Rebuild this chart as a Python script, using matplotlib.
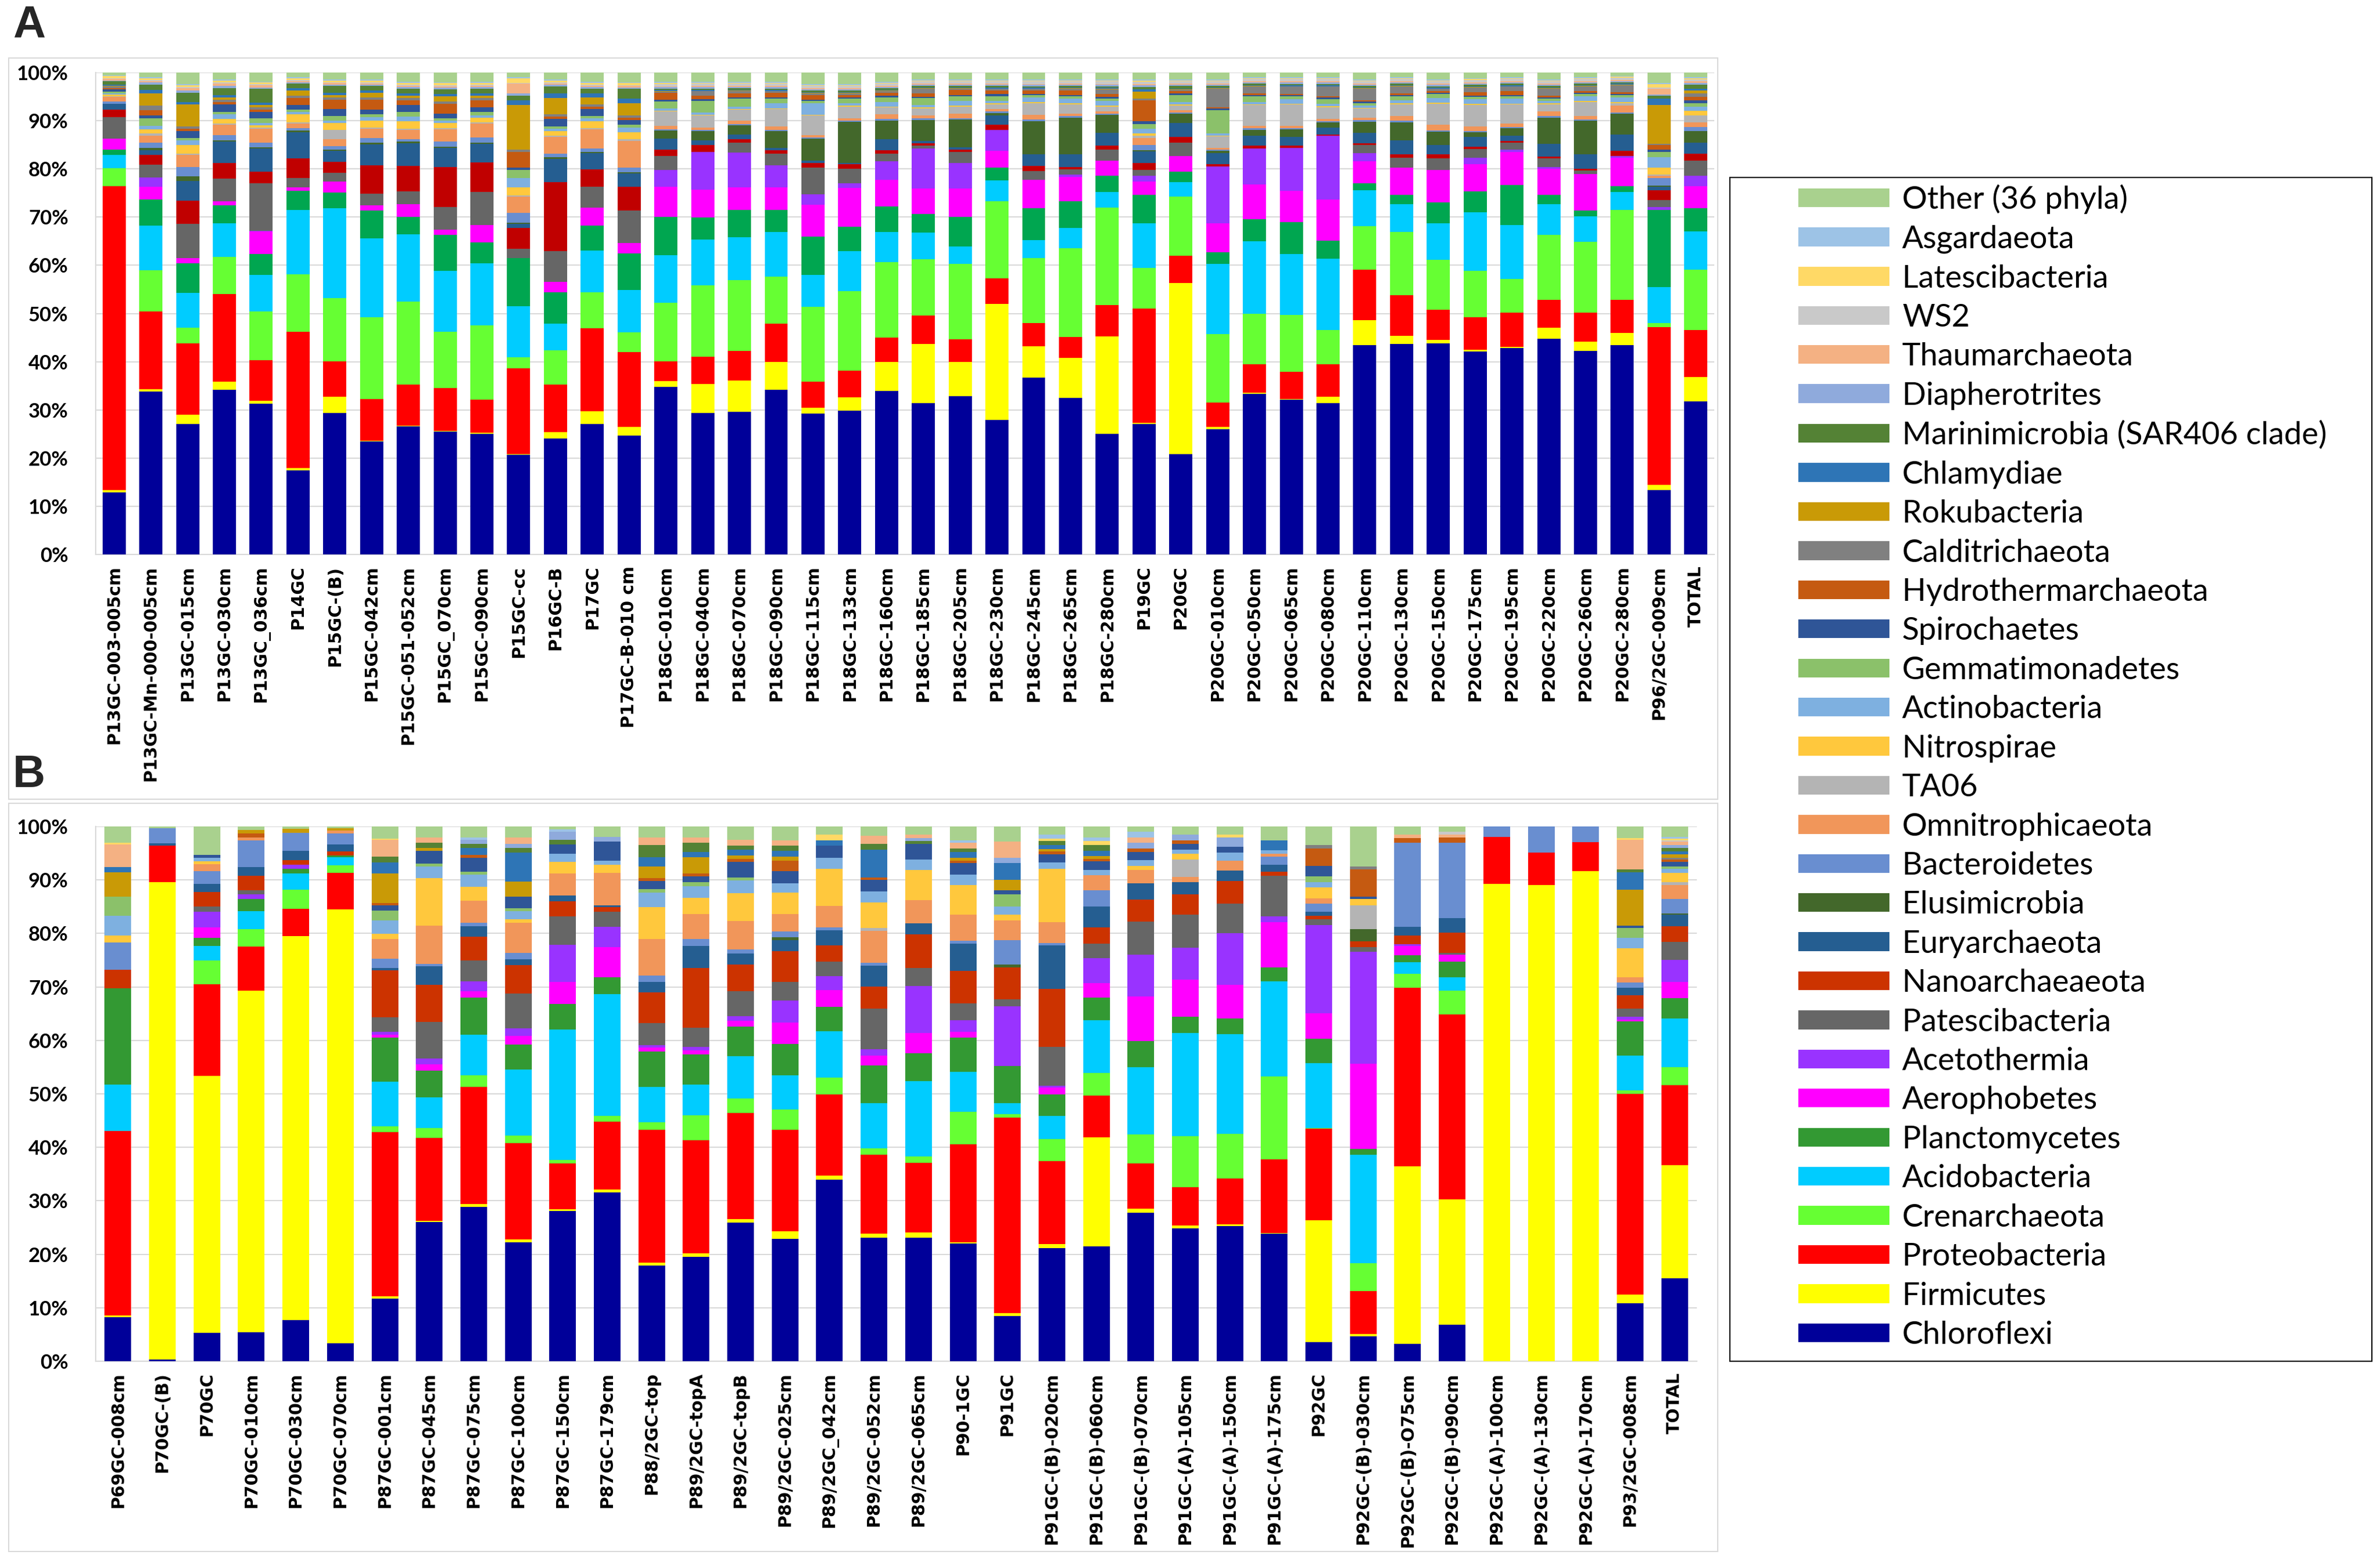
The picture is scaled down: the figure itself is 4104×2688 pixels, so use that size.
import numpy as np
import matplotlib
matplotlib.use("Agg")
import matplotlib.pyplot as plt
from matplotlib.patches import Patch, Rectangle

W, H = 4104, 2688

# stacking order, bottom -> top
PHYLA = ["Chloroflexi", "Firmicutes", "Proteobacteria", "Crenarchaeota",
         "Acidobacteria", "Planctomycetes", "Aerophobetes", "Acetothermia",
         "Patescibacteria", "Nanoarchaeaeota", "Euryarchaeota", "Elusimicrobia",
         "Bacteroidetes", "Omnitrophicaeota", "TA06", "Nitrospirae",
         "Actinobacteria", "Gemmatimonadetes", "Spirochaetes",
         "Hydrothermarchaeota", "Calditrichaeota", "Rokubacteria", "Chlamydiae",
         "Marinimicrobia (SAR406 clade)", "Diapherotrites", "Thaumarchaeota",
         "WS2", "Latescibacteria", "Asgardaeota", "Other (36 phyla)"]

COLORS = ["#000099", "#FFFF00", "#FF0000", "#66FF33", "#00CCFF", "#339933",
          "#FF00FF", "#9933FF", "#666666", "#CC3300", "#255E91", "#43682B",
          "#698ED0", "#F1965A", "#B4B4B4", "#FFC83D", "#7EB0E0", "#8BC16A",
          "#2F5597", "#C55A11", "#808080", "#C99A06", "#2E75B6", "#548235",
          "#8FAADC", "#F4B183", "#C9C9C9", "#FFD966", "#9DC3E6", "#A9D18E"]

# panel A renders two phyla in slightly different shades
A_COLORS = list(COLORS)
A_COLORS[5] = "#00A650"
A_COLORS[9] = "#C00000"

# ---------------- panel A ----------------
A_SAMPLES = ["P13GC-003-005cm", "P13GC-Mn-000-005cm", "P13GC-015cm", "P13GC-030cm",
             "P13GC_036cm", "P14GC", "P15GC-(B)", "P15GC-042cm", "P15GC-051-052cm",
             "P15GC_070cm", "P15GC-090cm", "P15GC-cc", "P16GC-B", "P17GC",
             "P17GC-B-010 cm", "P18GC-010cm", "P18GC-040cm", "P18GC-070cm",
             "P18GC-090cm", "P18GC-115cm", "P18GC-133cm", "P18GC-160cm",
             "P18GC-185cm", "P18GC-205cm", "P18GC-230cm", "P18GC-245cm",
             "P18GC-265cm", "P18GC-280cm", "P19GC", "P20GC", "P20GC-010cm",
             "P20GC-050cm", "P20GC-065cm", "P20GC-080cm", "P20GC-110cm",
             "P20GC-130cm", "P20GC-150cm", "P20GC-175cm", "P20GC-195cm",
             "P20GC-220cm", "P20GC-260cm", "P20GC-280cm", "P96/2GC-009cm", "TOTAL"]

A_CHLOROFLEXI = [13.2, 34.0, 27.9, 34.8, 33.1, 17.9, 30.6, 24.3, 27.2, 25.2,
                 25.7, 21.3, 24.7, 27.5, 24.7, 35.5, 30.2, 30.6, 35.1, 30.2,
                 30.9, 35.1, 32.6, 34.0, 28.7, 37.5, 33.4, 25.5, 27.5, 21.4,
                 27.0, 34.5, 32.8, 32.0, 45.1, 44.9, 44.8, 43.1, 43.9, 46.1,
                 43.4, 44.5, 13.5, 32.4]
A_FIRMICUTES = [0.5, 0.5, 2.0, 1.8, 0.7, 0.5, 3.5, 0.1, 0.1, 0.1,
                0.3, 0.1, 1.3, 2.7, 1.8, 1.3, 6.1, 6.6, 5.9, 1.2,
                2.9, 6.3, 12.7, 7.4, 24.7, 6.6, 8.5, 20.6, 0.2, 36.4,
                0.5, 0.3, 0.1, 1.4, 5.4, 1.7, 0.7, 0.3, 0.3, 2.3,
                1.9, 2.6, 1.0, 5.2]
A_PROTEOBACTERIA = [64.5, 16.2, 15.2, 18.5, 8.9, 29.1, 7.6, 8.9, 8.8, 8.9,
                    7.0, 18.3, 10.1, 17.4, 15.5, 4.2, 5.8, 6.4, 8.1, 5.6,
                    5.7, 5.2, 6.1, 4.9, 5.4, 5.0, 4.5, 6.6, 24.0, 5.9,
                    5.3, 6.1, 5.9, 6.8, 10.8, 8.6, 6.5, 6.9, 7.2, 5.9,
                    6.2, 7.0, 33.0, 9.9]
A_CRENARCHAEOTA = [3.9, 8.6, 3.3, 7.9, 10.7, 12.3, 13.7, 17.5, 17.6, 11.5,
                   15.8, 2.3, 7.3, 7.6, 4.1, 12.4, 15.3, 15.2, 10.0, 16.0,
                   17.1, 16.2, 12.1, 16.2, 16.5, 13.7, 18.9, 20.6, 8.6, 12.5,
                   14.7, 10.8, 12.0, 7.3, 9.4, 13.5, 10.5, 9.8, 7.2, 13.9,
                   15.1, 19.1, 0.9, 12.8]
A_ACIDOBACTERIA = [2.8, 9.3, 7.5, 7.1, 8.0, 13.8, 19.4, 16.9, 14.2, 12.5,
                   13.2, 10.9, 5.6, 8.8, 8.8, 10.1, 9.7, 9.1, 9.5, 6.8,
                   8.6, 6.5, 5.8, 3.7, 4.4, 3.9, 4.3, 3.4, 9.4, 3.1,
                   15.1, 15.5, 12.9, 15.0, 7.8, 6.0, 7.8, 12.5, 11.5, 6.6,
                   5.4, 3.8, 7.5, 8.1]
A_PLANCTOMYCETES = [1.1, 5.5, 6.3, 3.8, 4.5, 4.1, 3.4, 6.0, 3.8, 7.4,
                    4.5, 10.3, 6.7, 5.3, 7.6, 8.1, 4.7, 5.9, 4.7, 8.2,
                    5.2, 5.4, 4.0, 6.4, 2.7, 6.7, 5.7, 3.4, 6.0, 2.3,
                    2.6, 4.8, 6.8, 3.9, 1.4, 1.9, 4.4, 4.4, 8.5, 2.0,
                    1.3, 1.2, 16.1, 4.9]
A_AEROPHOBETES = [2.3, 2.7, 1.1, 0.9, 5.0, 0.7, 2.4, 1.1, 2.7, 1.0,
                  3.7, 0.0, 2.2, 3.7, 2.2, 6.4, 5.9, 4.8, 4.9, 6.8,
                  8.3, 5.7, 5.4, 6.1, 3.6, 6.0, 5.2, 3.2, 2.7, 3.3,
                  6.2, 7.4, 6.6, 8.6, 4.8, 5.8, 6.9, 5.8, 7.0, 5.6,
                  7.8, 6.1, 0.0, 4.7]
A_ACETOTHERMIA = [0.0, 1.9, 0.0, 0.0, 0.2, 0.0, 0.0, 0.0, 0.0, 0.0,
                  0.0, 0.0, 0.0, 0.0, 0.0, 3.6, 8.1, 7.5, 4.6, 2.2,
                  1.0, 4.1, 8.7, 5.4, 4.5, 0.0, 0.5, 0.0, 1.3, 0.0,
                  12.2, 7.8, 9.1, 13.5, 1.7, 0.0, 0.0, 1.3, 0.5, 0.3,
                  0.0, 0.4, 0.6, 2.2]
A_PATESCIBACTERIA = [4.6, 2.6, 7.3, 4.7, 10.4, 2.0, 1.8, 2.5, 2.7, 4.7,
                     7.1, 2.0, 6.5, 4.4, 6.7, 2.9, 0.0, 2.1, 2.5, 5.8,
                     3.1, 1.6, 0.6, 2.4, 0.0, 1.9, 1.1, 2.3, 1.2, 2.9,
                     0.0, 0.0, 0.0, 0.0, 1.8, 2.1, 2.5, 1.9, 1.5, 1.9,
                     0.7, 0.0, 1.4, 3.2]
A_NANOARCHAEAEOTA = [1.6, 2.1, 4.9, 3.3, 2.5, 4.2, 2.4, 6.1, 5.4, 8.2,
                     6.3, 4.4, 14.7, 3.7, 5.0, 1.3, 1.4, 0.7, 0.8, 1.0,
                     1.0, 0.7, 0.5, 0.5, 1.1, 1.1, 0.5, 0.9, 1.5, 1.2,
                     0.5, 0.6, 0.5, 0.3, 0.3, 0.8, 0.8, 0.4, 0.4, 0.4,
                     0.4, 1.1, 2.1, 1.5]
A_EURYARCHAEOTA = [1.2, 1.0, 4.2, 4.6, 5.1, 5.6, 2.4, 4.5, 4.8, 3.9,
                   3.9, 0.9, 5.0, 3.4, 2.7, 2.4, 1.1, 1.0, 0.5, 0.5,
                   0.3, 2.4, 0.5, 0.5, 2.0, 2.4, 2.7, 2.7, 2.4, 2.9,
                   2.4, 2.1, 1.9, 1.5, 2.3, 3.0, 2.0, 2.1, 1.0, 2.7,
                   3.1, 3.4, 0.7, 2.3]
A_ELUSIMICROBIA = [0.0, 0.5, 1.0, 0.3, 0.3, 0.3, 0.3, 0.3, 0.3, 0.3,
                   0.3, 0.3, 0.3, 0.3, 0.3, 1.7, 1.9, 2.0, 3.5, 4.6,
                   8.8, 4.0, 4.5, 6.0, 0.5, 7.1, 7.9, 3.7, 0.3, 2.0,
                   0.5, 1.3, 1.5, 1.0, 2.4, 3.8, 2.8, 1.0, 1.6, 5.6,
                   7.1, 4.4, 0.3, 2.5]
A_BACTEROIDETES = [0.5, 1.0, 2.0, 1.0, 1.0, 0.5, 0.7, 1.0, 0.5, 1.0,
                   1.0, 2.1, 0.8, 0.7, 1.0, 0.3, 0.3, 0.3, 0.3, 0.3,
                   0.3, 0.3, 0.3, 0.3, 0.3, 0.3, 0.3, 0.3, 1.0, 0.3,
                   0.3, 0.3, 0.3, 0.3, 0.3, 0.3, 0.3, 0.3, 0.3, 0.3,
                   0.3, 0.3, 1.5, 0.8]
A_OMNITROPHICAEOTA = [1.0, 1.5, 2.6, 2.2, 3.0, 1.0, 1.5, 2.0, 2.0, 2.5,
                      3.0, 3.4, 3.5, 4.0, 5.5, 0.7, 0.5, 0.7, 0.7, 0.5,
                      0.5, 1.0, 0.7, 1.0, 0.5, 1.0, 0.5, 0.5, 1.5, 0.5,
                      0.3, 0.5, 0.5, 0.5, 0.5, 1.0, 1.2, 1.0, 0.8, 1.0,
                      0.7, 1.5, 0.5, 1.0]
A_TA06 = [0.2, 0.5, 0.3, 0.3, 0.3, 0.3, 2.0, 0.3, 0.3, 0.3,
          0.3, 0.3, 0.3, 0.3, 0.3, 3.0, 2.5, 2.3, 3.7, 4.2,
          2.5, 1.5, 1.5, 1.5, 1.0, 2.5, 2.0, 1.0, 0.5, 1.0,
          2.5, 4.5, 4.5, 2.5, 2.0, 2.5, 4.5, 4.5, 4.0, 1.5,
          3.0, 0.5, 0.3, 1.5]
A_NITROSPIRAE = [0.3, 0.8, 1.8, 1.0, 0.5, 1.7, 1.5, 1.5, 1.5, 1.0,
                 1.0, 1.7, 1.0, 1.5, 1.5, 0.2, 0.2, 0.2, 0.2, 0.2,
                 0.2, 0.2, 0.2, 0.2, 0.2, 0.2, 0.2, 0.2, 0.5, 0.2,
                 0.2, 0.2, 0.2, 0.2, 0.2, 0.2, 0.2, 0.2, 0.2, 0.2,
                 0.2, 0.2, 1.4, 1.0]
A_ACTINOBACTERIA = [0.3, 0.8, 1.0, 1.0, 0.5, 0.5, 0.5, 0.7, 1.0, 0.5,
                    0.5, 2.0, 0.5, 0.5, 1.0, 0.5, 0.5, 0.5, 1.0, 2.4,
                    0.5, 1.0, 0.5, 1.0, 0.5, 1.0, 1.0, 1.0, 1.0, 0.5,
                    0.5, 0.5, 1.0, 0.5, 0.5, 0.7, 1.0, 1.0, 1.0, 0.5,
                    1.0, 1.0, 2.2, 0.8]
A_GEMMATIMONADETES = [0.3, 1.5, 0.5, 0.5, 1.0, 0.5, 1.0, 0.7, 1.0, 0.5,
                      0.7, 1.7, 0.5, 0.5, 0.5, 1.5, 2.5, 1.7, 1.0, 0.5,
                      1.0, 1.0, 1.5, 1.0, 1.0, 0.5, 0.5, 0.5, 1.0, 1.5,
                      5.0, 1.2, 0.5, 1.0, 0.5, 0.8, 0.8, 0.5, 0.5, 0.5,
                      0.5, 0.5, 1.1, 0.8]
A_SPIROCHAETES = [0.5, 0.7, 1.5, 1.5, 1.5, 1.0, 1.5, 1.0, 1.5, 1.0,
                  1.0, 0.5, 1.5, 1.5, 1.0, 0.3, 0.3, 0.3, 0.3, 0.3,
                  0.3, 0.3, 0.3, 0.3, 0.5, 0.3, 0.3, 0.3, 0.5, 0.3,
                  0.3, 0.3, 0.3, 0.3, 0.3, 0.3, 0.3, 0.3, 0.3, 0.3,
                  0.3, 0.3, 0.5, 0.6]
A_HYDROTHERMARCHAEOTA = [0.3, 1.0, 0.5, 0.5, 0.5, 1.5, 2.0, 2.0, 1.0, 2.0,
                         1.5, 3.4, 0.5, 0.5, 0.5, 1.5, 0.7, 0.8, 1.0, 1.0,
                         0.5, 0.7, 0.7, 1.0, 0.8, 0.7, 1.0, 0.7, 4.5, 0.5,
                         0.3, 0.3, 0.3, 0.3, 0.3, 0.3, 0.3, 0.7, 0.8, 0.3,
                         0.3, 0.3, 0.9, 0.8]
A_CALDITRICHAEOTA = [0.3, 1.0, 0.5, 0.5, 0.5, 0.5, 0.5, 0.5, 0.5, 0.5,
                     0.5, 0.5, 0.5, 0.5, 0.5, 0.3, 1.0, 0.5, 0.3, 0.3,
                     0.3, 0.3, 1.0, 0.3, 0.3, 0.3, 0.3, 1.0, 0.3, 0.3,
                     4.0, 1.5, 1.5, 2.0, 2.5, 1.5, 0.5, 1.0, 1.0, 1.5,
                     1.0, 1.5, 0.3, 0.7]
A_ROKUBACTERIA = [0.2, 2.5, 4.7, 0.5, 0.5, 1.0, 0.5, 1.0, 0.5, 1.0,
                  0.5, 9.5, 3.5, 1.5, 2.5, 0.1, 0.1, 0.1, 0.1, 0.1,
                  0.1, 0.1, 0.1, 0.1, 0.1, 0.1, 0.1, 0.1, 1.5, 0.1,
                  0.1, 0.1, 0.1, 0.1, 0.1, 0.1, 0.1, 0.1, 0.1, 0.1,
                  0.1, 0.1, 8.1, 0.6]
A_CHLAMYDIAE = [0.2, 0.8, 0.5, 0.5, 0.5, 0.5, 0.5, 0.5, 0.5, 0.5,
                0.5, 1.0, 1.0, 0.8, 1.0, 0.2, 0.2, 0.2, 0.2, 0.2,
                0.2, 0.2, 0.2, 0.2, 0.2, 0.2, 0.2, 0.2, 0.5, 0.2,
                0.2, 0.2, 0.2, 0.2, 0.2, 0.2, 0.2, 0.2, 0.2, 0.2,
                0.2, 0.2, 1.4, 0.4]
A_MARINIMICROBIA = [0.7, 1.0, 2.0, 1.5, 3.0, 1.0, 1.5, 1.0, 1.0, 1.0,
                    1.0, 1.0, 1.5, 1.0, 2.0, 0.3, 0.3, 0.3, 0.3, 0.3,
                    0.3, 0.3, 0.3, 0.3, 0.3, 0.3, 0.3, 0.3, 0.5, 0.5,
                    0.3, 0.3, 0.3, 0.3, 0.3, 0.3, 0.3, 0.3, 0.3, 0.3,
                    0.3, 0.3, 0.5, 0.8]
A_DIAPHEROTRITES = [0.2, 0.5, 0.5, 0.5, 0.3, 0.3, 0.3, 0.3, 0.3, 0.3,
                    0.3, 0.5, 0.3, 0.3, 0.3, 0.3, 0.3, 0.3, 0.3, 0.3,
                    0.3, 0.3, 0.3, 0.3, 0.3, 0.3, 0.3, 0.3, 0.3, 0.3,
                    0.3, 0.3, 0.3, 0.3, 0.3, 0.3, 0.3, 0.3, 0.3, 0.3,
                    0.3, 0.3, 0.3, 0.4]
A_THAUMARCHAEOTA = [0.3, 0.3, 0.5, 0.5, 0.5, 0.3, 0.3, 0.3, 0.3, 0.3,
                    0.3, 2.0, 0.3, 0.3, 0.3, 0.2, 0.2, 0.2, 0.2, 0.2,
                    0.2, 0.2, 0.2, 0.2, 0.2, 0.2, 0.2, 0.2, 0.3, 0.2,
                    0.2, 0.2, 0.2, 0.2, 0.2, 0.2, 0.2, 0.2, 0.2, 0.2,
                    0.2, 0.2, 1.2, 0.4]
A_WS2 = [0.2, 0.2, 0.2, 0.2, 0.2, 0.2, 0.2, 0.2, 0.2, 0.2,
         0.2, 0.2, 0.2, 0.2, 0.2, 0.5, 0.5, 0.5, 0.5, 0.5,
         0.5, 0.5, 0.5, 0.5, 0.5, 0.5, 0.5, 0.5, 0.5, 0.5,
         0.5, 0.5, 0.5, 0.5, 0.5, 0.5, 0.5, 0.5, 0.5, 0.5,
         0.5, 0.5, 0.2, 0.3]
A_LATESCIBACTERIA = [0.4, 0.4, 0.4, 0.4, 0.4, 0.4, 0.4, 0.4, 0.4, 0.4,
                     0.4, 1.0, 0.4, 0.4, 0.4, 0.2, 0.2, 0.2, 0.2, 0.2,
                     0.2, 0.2, 0.2, 0.2, 0.2, 0.2, 0.2, 0.2, 0.2, 0.2,
                     0.2, 0.2, 0.2, 0.2, 0.2, 0.2, 0.2, 0.2, 0.2, 0.2,
                     0.2, 0.2, 0.8, 0.3]
A_ASGARDAEOTA = [0.2, 0.2, 0.2, 0.2, 0.2, 0.2, 0.2, 0.2, 0.2, 0.2,
                 0.2, 0.2, 0.2, 0.2, 0.2, 0.2, 0.2, 0.2, 0.2, 0.2,
                 0.2, 0.2, 0.2, 0.2, 0.2, 0.2, 0.2, 0.2, 0.2, 0.2,
                 0.2, 0.2, 0.2, 0.2, 0.2, 0.2, 0.2, 0.2, 0.2, 0.2,
                 0.2, 0.2, 0.2, 0.2]
A_OTHER = [0.6, 1.0, 2.5, 1.5, 2.0, 1.0, 1.5, 1.5, 2.0, 2.0,
           2.0, 1.0, 1.5, 2.0, 2.0, 2.0, 2.0, 2.0, 2.0, 2.5,
           2.5, 2.0, 1.5, 1.5, 1.5, 1.5, 1.5, 1.5, 1.5, 1.5,
           1.5, 1.0, 1.0, 1.0, 1.5, 1.0, 1.5, 1.2, 1.0, 1.5,
           1.0, 0.7, 2.2, 1.0]

# ---------------- panel B ----------------
B_SAMPLES = ["P69GC-008cm", "P70GC-(B)", "P70GC", "P70GC-010cm", "P70GC-030cm",
             "P70GC-070cm", "P87GC-001cm", "P87GC-045cm", "P87GC-075cm",
             "P87GC-100cm", "P87GC-150cm", "P87GC-179cm", "P88/2GC-top",
             "P89/2GC-topA", "P89/2GC-topB", "P89/2GC-025cm", "P89/2GC_042cm",
             "P89/2GC-052cm", "P89/2GC-065cm", "P90-1GC", "P91GC",
             "P91GC-(B)-020cm", "P91GC-(B)-060cm", "P91GC-(B)-070cm",
             "P91GC-(A)-105cm", "P91GC-(A)-150cm", "P91GC-(A)-175cm", "P92GC",
             "P92GC-(B)-030cm", "P92GC-(B)-O75cm", "P92GC-(B)-090cm",
             "P92GC-(A)-100cm", "P92GC-(A)-130cm", "P92GC-(A)-170cm",
             "P93/2GC-008cm", "TOTAL"]

B_CHLOROFLEXI = [8.3, 0.3, 5.3, 5.4, 7.7, 3.3, 11.5, 25.7, 28.3, 22.1,
                 27.8, 31.7, 17.8, 19.2, 25.5, 22.4, 32.9, 22.6, 22.9, 21.4,
                 8.3, 20.7, 21.0, 27.3, 24.3, 24.6, 23.2, 3.6, 4.7, 3.3,
                 6.8, 0.0, 0.0, 0.0, 10.8, 15.6]
B_FIRMICUTES = [0.3, 89.1, 47.7, 63.6, 71.3, 80.9, 0.4, 0.3, 0.5, 0.5,
                0.3, 0.6, 0.5, 0.7, 0.6, 1.4, 0.7, 0.8, 1.0, 0.3,
                0.5, 0.8, 19.9, 0.7, 0.5, 0.3, 0.1, 23.0, 0.4, 33.1,
                23.2, 89.3, 89.0, 91.7, 1.6, 21.2]
B_PROTEOBACTERIA = [34.6, 6.8, 17.0, 8.2, 5.1, 6.8, 30.3, 15.3, 21.5, 17.9,
                    8.5, 12.8, 24.7, 20.8, 19.5, 18.6, 14.7, 14.4, 12.9, 17.8,
                    35.8, 15.1, 7.6, 8.4, 7.0, 8.3, 13.3, 17.3, 8.0, 33.4,
                    34.4, 8.8, 6.1, 5.4, 37.3, 15.1]
B_CRENARCHAEOTA = [0.0, 0.0, 4.4, 3.2, 3.6, 1.5, 1.0, 1.8, 2.1, 1.4,
                   0.7, 1.0, 1.4, 4.6, 2.7, 3.7, 3.1, 1.2, 1.1, 5.9,
                   0.7, 4.1, 4.2, 5.3, 9.4, 8.1, 15.1, 0.1, 5.2, 2.6,
                   4.4, 0.0, 0.0, 0.0, 0.6, 3.4]
B_ACIDOBACTERIA = [8.7, 0.0, 2.7, 3.3, 3.0, 1.5, 8.2, 5.7, 7.4, 12.3,
                   24.1, 23.0, 6.6, 5.7, 7.7, 6.3, 8.4, 8.3, 14.0, 7.3,
                   2.0, 4.2, 9.6, 12.4, 18.8, 18.2, 17.3, 12.2, 20.3, 2.1,
                   2.5, 0.0, 0.0, 0.0, 6.5, 9.1]
B_PLANCTOMYCETES = [18.1, 0.0, 1.5, 2.3, 0.8, 0.3, 8.2, 4.9, 6.8, 4.7,
                    4.7, 3.1, 6.6, 5.6, 5.5, 5.7, 4.4, 6.8, 5.2, 6.2,
                    6.8, 3.9, 4.1, 4.8, 3.0, 2.8, 2.5, 4.7, 1.1, 1.4,
                    2.9, 0.0, 0.0, 0.0, 6.4, 3.8]
B_AEROPHOBETES = [0.0, 0.0, 2.0, 0.0, 0.0, 0.0, 0.5, 1.2, 1.2, 1.6,
                  4.1, 5.7, 0.7, 0.7, 1.0, 4.0, 3.1, 1.9, 3.7, 1.1,
                  0.0, 1.3, 2.7, 8.2, 6.8, 6.1, 8.2, 4.8, 15.9, 1.7,
                  1.3, 0.0, 0.0, 0.0, 0.3, 3.1]
B_ACETOTHERMIA = [0.0, 0.0, 2.9, 0.9, 0.8, 0.0, 0.5, 1.1, 1.8, 1.4,
                  6.9, 3.8, 0.5, 0.7, 0.9, 4.0, 2.5, 1.1, 8.7, 2.1,
                  10.9, 0.3, 4.5, 7.6, 5.8, 9.4, 1.1, 16.6, 21.0, 0.3,
                  0.0, 0.0, 0.0, 0.0, 0.5, 4.1]
B_PATESCIBACTERIA = [0.0, 0.0, 0.9, 0.7, 0.0, 0.0, 2.7, 6.7, 3.8, 6.4,
                     5.3, 2.9, 4.1, 3.5, 4.6, 3.4, 2.6, 7.5, 3.4, 3.1,
                     1.3, 7.2, 2.7, 6.1, 6.1, 5.4, 7.3, 1.1, 0.8, 0.0,
                     0.3, 0.0, 0.0, 0.0, 1.6, 3.4]
B_NANOARCHAEAEOTA = [3.4, 0.0, 2.7, 2.7, 0.8, 0.7, 8.6, 6.9, 4.4, 5.3,
                     2.8, 0.8, 5.7, 11.0, 4.9, 5.6, 3.0, 4.0, 6.2, 5.9,
                     5.9, 10.6, 3.0, 4.1, 3.7, 4.1, 0.8, 0.7, 1.1, 1.6,
                     3.8, 0.0, 0.0, 0.0, 2.4, 3.0]
B_EURYARCHAEOTA = [0.0, 0.5, 1.5, 1.6, 1.8, 1.3, 0.5, 3.4, 1.9, 1.1,
                   1.0, 0.4, 1.9, 4.1, 2.0, 2.1, 2.7, 3.8, 2.1, 5.0,
                   0.0, 7.9, 3.8, 3.0, 2.2, 1.9, 1.2, 0.7, 0.0, 1.7,
                   2.7, 0.0, 0.0, 0.0, 1.4, 2.1]
B_ELUSIMICROBIA = [0.0, 0.0, 0.0, 0.0, 0.0, 0.0, 0.0, 0.0, 0.0, 0.0,
                   0.0, 0.0, 0.0, 0.0, 0.0, 0.5, 0.0, 0.0, 0.0, 0.0,
                   0.5, 0.0, 0.0, 0.0, 0.0, 0.0, 0.0, 0.0, 2.3, 0.0,
                   0.0, 0.0, 0.0, 0.0, 0.0, 0.3]
B_BACTEROIDETES = [5.1, 2.8, 2.4, 5.0, 3.3, 2.1, 1.7, 0.5, 0.7, 1.2,
                   0.0, 0.0, 1.2, 1.2, 0.7, 1.1, 0.5, 0.5, 0.0, 0.5,
                   4.5, 0.5, 2.9, 0.0, 0.0, 0.0, 1.5, 1.5, 0.0, 15.7,
                   14.0, 1.9, 4.9, 2.9, 1.0, 2.7]
B_OMNITROPHICAEOTA = [0.0, 0.0, 1.3, 0.5, 0.0, 0.5, 3.6, 7.1, 4.0, 5.6,
                      4.1, 6.1, 6.8, 4.7, 5.2, 3.2, 3.9, 5.9, 4.2, 4.7,
                      3.6, 3.8, 2.8, 2.4, 1.0, 1.8, 0.5, 1.0, 0.0, 0.0,
                      0.0, 0.0, 0.0, 0.0, 1.0, 2.6]
B_TA06 = [0.0, 0.0, 0.0, 0.0, 0.0, 0.0, 0.0, 0.0, 0.0, 0.0,
          0.0, 0.0, 0.0, 0.0, 0.0, 0.0, 0.0, 0.5, 0.0, 0.0,
          0.0, 0.0, 0.0, 0.0, 3.2, 0.0, 0.0, 0.0, 4.5, 0.0,
          0.0, 0.0, 0.0, 0.0, 0.0, 0.5]
B_NITROSPIRAE = [1.3, 0.0, 0.5, 0.0, 0.0, 0.0, 1.0, 8.8, 2.5, 0.7,
                 2.2, 1.5, 5.9, 2.9, 5.1, 3.9, 6.7, 4.7, 5.6, 5.4,
                 1.0, 9.7, 0.0, 0.8, 1.0, 0.0, 0.0, 2.1, 1.1, 0.0,
                 0.0, 0.0, 0.0, 0.0, 5.4, 1.8]
B_ACTINOBACTERIA = [3.7, 0.0, 0.7, 0.0, 0.0, 0.0, 2.4, 2.1, 2.3, 1.5,
                    1.4, 0.8, 2.7, 2.2, 2.4, 1.7, 2.0, 2.0, 2.0, 1.9,
                    1.5, 1.2, 1.0, 1.0, 0.8, 1.5, 0.7, 1.0, 0.0, 0.0,
                    0.0, 0.0, 0.0, 0.0, 1.9, 0.7]
B_GEMMATIMONADETES = [3.6, 0.0, 0.0, 0.0, 0.0, 0.0, 1.8, 0.5, 0.5, 0.5,
                      0.0, 0.0, 0.7, 0.7, 0.5, 0.0, 0.0, 0.0, 0.0, 0.0,
                      2.3, 0.0, 0.0, 0.0, 0.0, 0.0, 0.0, 1.1, 0.0, 0.0,
                      0.0, 0.0, 0.0, 0.0, 1.8, 0.5]
B_SPIROCHAETES = [0.0, 0.0, 0.5, 0.0, 0.0, 0.0, 1.0, 2.4, 2.6, 2.2,
                  1.8, 3.6, 1.5, 1.1, 2.9, 2.2, 2.2, 2.1, 2.9, 2.1,
                  0.7, 1.5, 1.5, 1.5, 1.0, 1.0, 0.0, 2.0, 0.5, 0.0,
                  0.0, 0.0, 0.0, 0.0, 0.5, 0.8]
B_HYDROTHERMARCHAEOTA = [0.0, 0.0, 0.0, 0.8, 0.0, 0.0, 0.4, 0.0, 0.5, 0.0,
                         0.0, 0.0, 0.5, 0.5, 0.5, 1.9, 0.0, 0.5, 0.0, 0.5,
                         0.0, 0.5, 0.5, 0.7, 0.7, 0.0, 0.0, 3.2, 5.1, 0.8,
                         1.0, 0.0, 0.0, 0.0, 0.0, 0.5]
B_CALDITRICHAEOTA = [0.0, 0.0, 0.0, 0.0, 0.0, 0.0, 0.0, 0.0, 0.0, 0.0,
                     0.0, 0.0, 0.0, 0.0, 0.0, 0.0, 0.0, 0.0, 0.0, 0.0,
                     0.0, 0.0, 0.0, 0.0, 0.0, 0.0, 0.0, 0.7, 0.5, 0.0,
                     0.0, 0.0, 0.0, 0.0, 0.0, 0.3]
B_ROKUBACTERIA = [4.6, 0.0, 0.0, 0.7, 0.8, 0.5, 5.5, 0.5, 0.0, 2.8,
                  0.0, 0.0, 2.2, 3.0, 0.7, 0.8, 0.0, 0.0, 0.0, 0.5,
                  1.9, 0.5, 0.5, 0.0, 0.0, 0.0, 0.0, 0.0, 0.0, 0.0,
                  0.0, 0.0, 0.0, 0.0, 6.6, 0.7]
B_CHLAMYDIAE = [1.0, 0.0, 0.0, 0.0, 0.0, 0.0, 2.0, 0.0, 1.3, 5.4,
                0.0, 0.0, 1.7, 1.0, 1.0, 1.0, 1.0, 5.1, 0.0, 1.0,
                3.1, 0.7, 1.0, 0.0, 0.0, 0.0, 1.8, 0.0, 0.0, 0.0,
                0.0, 0.0, 0.0, 0.0, 3.3, 0.5]
B_MARINIMICROBIA = [0.0, 0.0, 0.0, 0.0, 0.0, 0.0, 1.0, 1.0, 0.7, 0.8,
                    0.8, 0.0, 2.2, 1.7, 0.8, 1.0, 0.0, 1.0, 0.5, 0.7,
                    0.0, 0.7, 1.0, 0.0, 0.0, 0.0, 0.0, 0.0, 0.0, 0.0,
                    0.0, 0.0, 0.0, 0.0, 0.5, 0.7]
B_DIAPHEROTRITES = [0.0, 0.0, 0.0, 0.0, 0.0, 0.0, 0.0, 0.0, 0.8, 0.8,
                    1.5, 0.8, 0.0, 0.0, 0.0, 0.0, 0.0, 0.0, 0.5, 0.0,
                    1.0, 0.0, 0.0, 1.0, 1.0, 1.7, 0.0, 0.0, 0.0, 0.0,
                    0.0, 0.0, 0.0, 0.0, 0.0, 0.5]
B_THAUMARCHAEOTA = [4.2, 0.0, 0.0, 0.0, 0.0, 0.0, 3.1, 1.0, 0.0, 1.2,
                    0.0, 0.0, 1.5, 1.0, 1.0, 1.0, 0.0, 1.5, 0.7, 1.0,
                    2.9, 0.0, 0.0, 1.0, 0.0, 0.0, 0.0, 0.0, 0.0, 0.7,
                    0.5, 0.0, 0.0, 0.0, 5.5, 0.7]
B_WS2 = [0.0, 0.0, 0.0, 0.0, 0.0, 0.0, 0.0, 0.0, 0.0, 0.0,
         0.0, 0.0, 0.0, 0.0, 0.0, 0.0, 0.0, 0.0, 0.0, 0.0,
         0.0, 0.0, 0.0, 0.0, 0.0, 0.0, 0.0, 0.0, 0.0, 0.0,
         0.5, 0.0, 0.0, 0.0, 0.0, 0.2]
B_LATESCIBACTERIA = [0.4, 0.0, 0.0, 0.0, 0.0, 0.0, 0.3, 0.0, 0.0, 0.0,
                     0.0, 0.0, 0.0, 0.0, 0.0, 0.0, 1.0, 0.0, 0.0, 0.0,
                     0.0, 0.5, 0.7, 0.0, 0.0, 0.5, 0.0, 0.0, 0.0, 0.0,
                     0.0, 0.0, 0.0, 0.0, 0.3, 0.3]
B_ASGARDAEOTA = [0.0, 0.0, 0.0, 0.0, 0.0, 0.0, 0.0, 0.0, 0.4, 0.0,
                 0.5, 0.0, 0.0, 0.0, 0.0, 0.0, 0.0, 0.0, 0.0, 0.5,
                 0.0, 0.7, 0.7, 1.0, 0.0, 0.0, 0.0, 0.0, 0.0, 0.0,
                 0.0, 0.0, 0.0, 0.0, 0.0, 0.3]
B_OTHER = [3.0, 0.3, 5.3, 0.6, 0.4, 0.3, 2.2, 2.0, 2.0, 2.0,
           0.5, 2.0, 2.0, 2.0, 2.5, 2.5, 1.5, 1.7, 1.5, 2.5,
           2.8, 1.5, 2.0, 1.0, 1.5, 1.5, 2.5, 3.5, 7.5, 1.5,
           1.0, 0.0, 0.0, 0.0, 2.2, 2.0]

A_TABLE = [A_CHLOROFLEXI, A_FIRMICUTES, A_PROTEOBACTERIA, A_CRENARCHAEOTA,
           A_ACIDOBACTERIA, A_PLANCTOMYCETES, A_AEROPHOBETES, A_ACETOTHERMIA,
           A_PATESCIBACTERIA, A_NANOARCHAEAEOTA, A_EURYARCHAEOTA, A_ELUSIMICROBIA,
           A_BACTEROIDETES, A_OMNITROPHICAEOTA, A_TA06, A_NITROSPIRAE,
           A_ACTINOBACTERIA, A_GEMMATIMONADETES, A_SPIROCHAETES,
           A_HYDROTHERMARCHAEOTA, A_CALDITRICHAEOTA, A_ROKUBACTERIA, A_CHLAMYDIAE,
           A_MARINIMICROBIA, A_DIAPHEROTRITES, A_THAUMARCHAEOTA, A_WS2,
           A_LATESCIBACTERIA, A_ASGARDAEOTA, A_OTHER]
B_TABLE = [B_CHLOROFLEXI, B_FIRMICUTES, B_PROTEOBACTERIA, B_CRENARCHAEOTA,
           B_ACIDOBACTERIA, B_PLANCTOMYCETES, B_AEROPHOBETES, B_ACETOTHERMIA,
           B_PATESCIBACTERIA, B_NANOARCHAEAEOTA, B_EURYARCHAEOTA, B_ELUSIMICROBIA,
           B_BACTEROIDETES, B_OMNITROPHICAEOTA, B_TA06, B_NITROSPIRAE,
           B_ACTINOBACTERIA, B_GEMMATIMONADETES, B_SPIROCHAETES,
           B_HYDROTHERMARCHAEOTA, B_CALDITRICHAEOTA, B_ROKUBACTERIA, B_CHLAMYDIAE,
           B_MARINIMICROBIA, B_DIAPHEROTRITES, B_THAUMARCHAEOTA, B_WS2,
           B_LATESCIBACTERIA, B_ASGARDAEOTA, B_OTHER]

GRID = "#D9D9D9"


def fx(px):
    return px / W


def fy(py):
    return 1 - py / H


def stacked_percent(ax, samples, table, colors, width):
    vals = np.array(table, dtype=float)
    pct = vals / vals.sum(axis=0) * 100  # 100% stacked, like the spreadsheet
    x = np.arange(len(samples))
    bottom = np.zeros(len(samples))
    for row, c in zip(pct, colors):
        ax.bar(x, row, width, bottom=bottom, color=c, linewidth=0, zorder=3)
        bottom += row
    ax.set_xlim(-0.5, len(samples) - 0.5)
    ax.set_ylim(0, 100)
    ax.set_yticks(np.arange(0, 101, 10))
    ax.set_yticklabels([f"{v}%" for v in range(0, 101, 10)],
                       family="Lato", fontweight="bold", fontsize=25)
    ax.set_xticks(x)
    ax.set_xticklabels(samples, rotation=90, family="DejaVu Sans",
                       fontweight="bold", fontsize=21.5)
    ax.tick_params(axis="y", length=0, pad=34)
    ax.tick_params(axis="x", length=0, pad=14)
    ax.grid(axis="y", color=GRID, lw=1.5, zorder=0)
    for s in ["top", "right"]:
        ax.spines[s].set_visible(False)
    for s in ["left", "bottom"]:
        ax.spines[s].set_color(GRID)
        ax.spines[s].set_linewidth(1.5)


fig = plt.figure(figsize=(W / 100, H / 100), dpi=100)

# panel frames
for y0, y1 in [(100, 1378), (1385, 2675)]:
    fig.add_artist(Rectangle((fx(15), fy(y1)), fx(2962) - fx(15), fy(y0) - fy(y1),
                             transform=fig.transFigure, fill=False,
                             ec=GRID, lw=1.5))

axA = fig.add_axes([fx(165), fy(956), fx(2956) - fx(165), fy(125) - fy(956)])
stacked_percent(axA, A_SAMPLES, A_TABLE, A_COLORS, 0.63)

axB = fig.add_axes([fx(165), fy(2347), fx(2926) - fx(165), fy(1425) - fy(2347)])
stacked_percent(axB, B_SAMPLES, B_TABLE, COLORS, 0.6)

fig.text(fx(22), fy(8), "A", family="Liberation Sans", fontweight="bold",
         fontsize=56, color="#262626", ha="left", va="top")
fig.text(fx(22), fy(1300), "B", family="Liberation Sans", fontweight="bold",
         fontsize=56, color="#262626", ha="left", va="top",
         bbox=dict(fc="white", ec="none", pad=2))

# legend
fig.add_artist(Rectangle((fx(2983), fy(2347)), fx(4090) - fx(2983),
                         fy(306) - fy(2347), transform=fig.transFigure,
                         fill=False, ec="black", lw=1.5))
handles = [Patch(facecolor=c, edgecolor="none") for c in COLORS][::-1]
labels = PHYLA[::-1]
fig.legend(handles, labels, loc="upper left",
           bbox_to_anchor=(fx(3101), fy(318)), frameon=False,
           prop={"family": "Lato", "size": 39},
           handlelength=2.9, handleheight=0.54, handletextpad=0.4,
           labelspacing=0.34, borderpad=0, borderaxespad=0)

fig.savefig("out.png", dpi=100)
